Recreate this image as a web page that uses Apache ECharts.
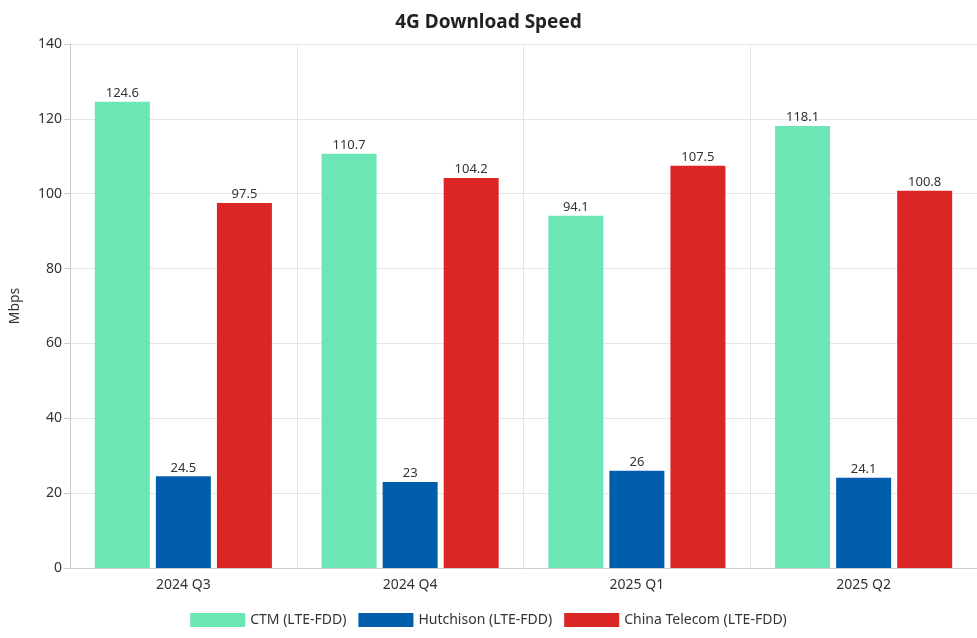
<!DOCTYPE html>
<html><head><meta charset="utf-8">
<script src="https://cdn.jsdelivr.net/npm/echarts@6/dist/echarts.min.js"></script>
<style>html,body{margin:0;padding:0;background:#fff}#c{width:977px;height:638px}</style>
</head><body><div id="c"></div>
<script>
const categories = ['2024 Q3','2024 Q4','2025 Q1','2025 Q2'];
const ctm = [124.6,110.7,94.1,118.1];
const hutchison = [24.5,23,26,24.1];
const chinaTelecom = [97.5,104.2,107.5,100.8];
const yTicks = {min:0,max:140,interval:20};
const font = '"Noto Sans", sans-serif';
const lbl = {show:true,position:'top',color:'#333',fontSize:13,fontFamily:font,distance:2};
const chart = echarts.init(document.getElementById('c'));
chart.setOption({
  textStyle:{fontFamily:font},
  title:{text:'4G Download Speed',left:'center',top:8,textStyle:{fontSize:19,fontWeight:'bold',color:'#222',fontFamily:font}},
  grid:{left:69,right:0,top:44,bottom:70},
  legend:{bottom:6,itemWidth:55,itemHeight:14,itemGap:12,textStyle:{fontSize:14,color:'#333',fontFamily:font},icon:'rect'},
  xAxis:{type:'category',data:categories,axisTick:{show:false},
    axisLine:{lineStyle:{color:'#ccc'}},splitLine:{show:true,lineStyle:{color:'#e6e6e6'}},
    axisLabel:{fontSize:14,color:'#333',margin:10}},
  yAxis:{type:'value',min:yTicks.min,max:yTicks.max,interval:yTicks.interval,name:'Mbps',nameLocation:'middle',nameGap:48,
    nameTextStyle:{fontSize:14,color:'#333'},axisLine:{show:true,lineStyle:{color:'#ccc'}},axisTick:{show:true,length:6,lineStyle:{color:'#ccc'}},
    splitLine:{lineStyle:{color:'#e6e6e6'}},axisLabel:{fontSize:14,color:'#333'}},
  series:[
    {name:'CTM (LTE-FDD)',type:'bar',data:ctm,itemStyle:{color:'#6de6b5'},barWidth:55,barGap:'11%',barCategoryGap:'22%',label:lbl},
    {name:'Hutchison (LTE-FDD)',type:'bar',data:hutchison,itemStyle:{color:'#005eac'},barWidth:55,barGap:'11%',label:lbl},
    {name:'China Telecom (LTE-FDD)',type:'bar',data:chinaTelecom,itemStyle:{color:'#dc2626'},barWidth:55,barGap:'11%',label:lbl}
  ]
});
</script></body></html>
